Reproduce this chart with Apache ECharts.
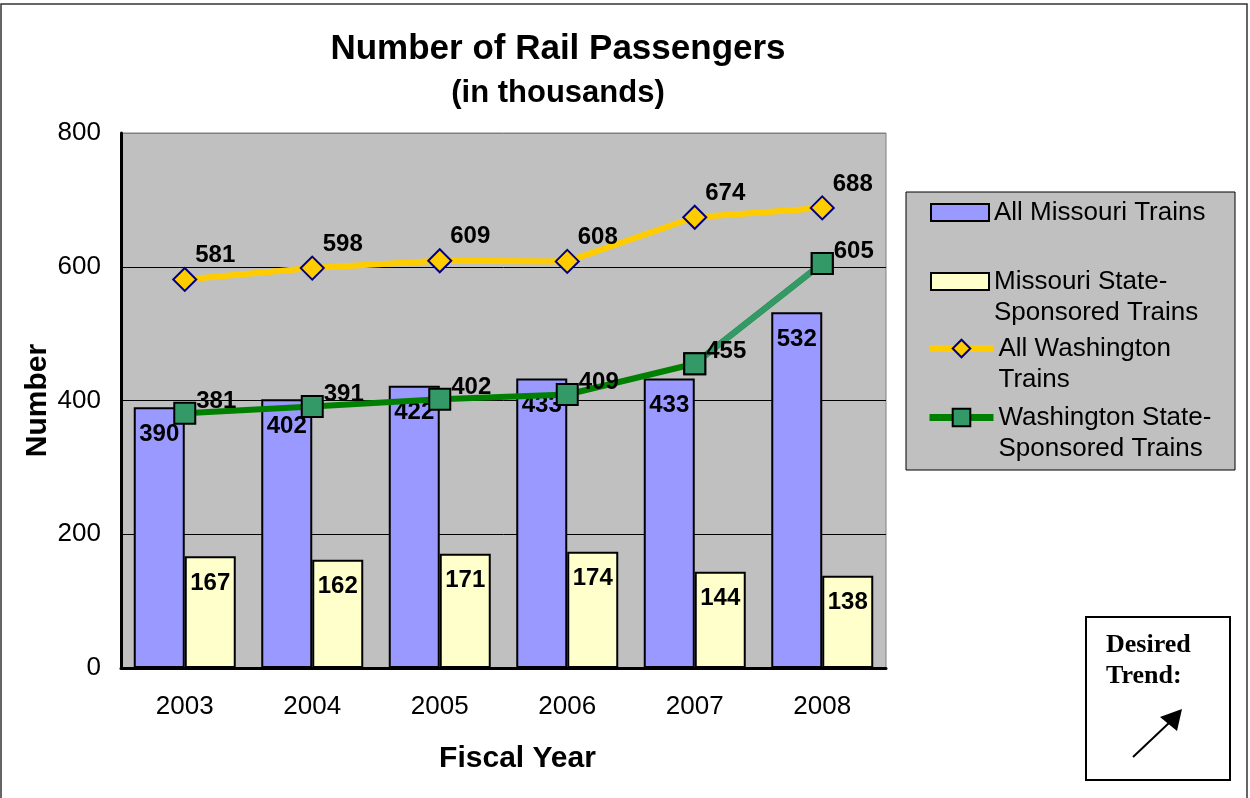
<!DOCTYPE html>
<html>
<head>
<meta charset="utf-8">
<script src="https://cdn.jsdelivr.net/npm/echarts@6/dist/echarts.min.js"></script>
<style>
html,body{margin:0;padding:0;background:#fff;}
#chart{width:1250px;height:798px;}
</style>
</head>
<body>
<div id="chart"></div>
<script>
// ---- data ----
const categories = ['2003', '2004', '2005', '2006', '2007', '2008'];
const allMissouriTrains = [390, 402, 422, 433, 433, 532];
const missouriStateTrains = [167, 162, 171, 174, 144, 138];
const allWashingtonTrains = [581, 598, 609, 608, 674, 688];
const washingtonStateTrains = [381, 391, 402, 409, 455, 605];
const yTicks = [0, 200, 400, 600, 800];

const seriesNames = [
  'All Missouri Trains',
  'Missouri State-\nSponsored Trains',
  'All Washington\nTrains',
  'Washington State-\nSponsored Trains'
];

const FONT = '"Liberation Sans", Arial, sans-serif';
const SERIF = '"Liberation Serif", "Times New Roman", serif';

const chart = echarts.init(document.getElementById('chart'), null, {renderer: 'canvas'});

const barLabel = {
  show: true, position: 'insideTop', distance: 15,
  fontFamily: FONT, fontSize: 24, fontWeight: 'bold', color: '#000'
};

const legendText = {fontFamily: FONT, fontSize: 26, color: '#000', lineHeight: 31};
// leading empty line keeps the first text line level with the legend icon
const multiFormatter = name => '\n' + name;

const option = {
  backgroundColor: '#ffffff',
  animation: false,
  grid: {
    left: 121, top: 133, width: 765, height: 535,
    show: true, backgroundColor: '#C0C0C0', borderColor: '#808080', borderWidth: 1
  },
  xAxis: {
    type: 'category',
    data: categories,
    axisLine: {show: true, lineStyle: {color: '#000', width: 3}},
    axisTick: {show: false},
    axisLabel: {fontFamily: FONT, fontSize: 26, color: '#000', margin: 26},
    name: 'Fiscal Year',
    nameLocation: 'middle',
    nameGap: 76,
    nameMoveOverlap: false,
    nameTextStyle: {fontFamily: FONT, fontSize: 30, fontWeight: 'bold', color: '#000', padding: [0, 0, 0, 28]}
  },
  yAxis: {
    type: 'value',
    min: yTicks[0], max: yTicks[yTicks.length - 1], interval: 200,
    axisLine: {show: true, lineStyle: {color: '#000', width: 3}},
    axisTick: {show: false},
    axisLabel: {fontFamily: FONT, fontSize: 26, color: '#000', margin: 20},
    splitLine: {show: true, lineStyle: {color: ['#000', '#000', '#000', '#000', '#808080'], width: 1}},
    name: 'Number',
    nameLocation: 'middle',
    nameRotate: 90,
    nameGap: 68,
    nameMoveOverlap: false,
    nameTextStyle: {fontFamily: FONT, fontSize: 30, fontWeight: 'bold', color: '#000'}
  },
  legend: [
    {data: [seriesNames[0]], left: 930, top: 197, padding: 0, icon: 'rect',
     itemWidth: 58, itemHeight: 17, textStyle: legendText, selectedMode: false},
    {data: [seriesNames[1]], left: 930, top: 235, padding: 0, icon: 'rect',
     itemWidth: 58, itemHeight: 17, textStyle: legendText, selectedMode: false,
     formatter: multiFormatter},
    {data: [seriesNames[2]], left: 926, top: 302, padding: 0,
     itemWidth: 64, itemHeight: 22, textStyle: legendText, selectedMode: false,
     formatter: multiFormatter, lineStyle: {width: 7}},
    {data: [seriesNames[3]], left: 926, top: 371, padding: 0,
     itemWidth: 64, itemHeight: 22, textStyle: legendText, selectedMode: false,
     formatter: multiFormatter, lineStyle: {width: 7}}
  ],
  series: [
    {
      name: seriesNames[0], type: 'bar', data: allMissouriTrains,
      barWidth: 51, barGap: '0%',
      itemStyle: {color: '#9999FF', borderColor: '#000', borderWidth: 2},
      label: barLabel
    },
    {
      name: seriesNames[1], type: 'bar', data: missouriStateTrains,
      barWidth: 51, barGap: '0%',
      itemStyle: {color: '#FFFFCC', borderColor: '#000', borderWidth: 2},
      label: barLabel
    },
    {
      name: seriesNames[2], type: 'line', data: allWashingtonTrains,
      symbol: 'diamond', symbolSize: 23,
      lineStyle: {color: '#FFCC00', width: 6},
      itemStyle: {color: '#FFCC00', borderColor: '#000080', borderWidth: 2},
      label: {show: true, position: 'right', distance: 0, offset: [-2, -24],
              fontFamily: FONT, fontSize: 24, fontWeight: 'bold', color: '#000'},
      z: 3
    },
    {
      name: seriesNames[3], type: 'line', data: washingtonStateTrains,
      symbol: 'rect', symbolSize: 21,
      lineStyle: {color: '#008000', width: 6},
      itemStyle: {color: '#339966', borderColor: '#000', borderWidth: 2},
      label: {show: true, position: 'right', distance: 0, offset: [0, -12],
              fontFamily: FONT, fontSize: 24, fontWeight: 'bold', color: '#000'},
      z: 3
    },
    {
      name: 'wsLastSegment', type: 'line',
      data: washingtonStateTrains.map((v, i) => (i >= washingtonStateTrains.length - 2 ? v : '-')),
      symbol: 'rect', symbolSize: 21,
      lineStyle: {color: '#339966', width: 6},
      itemStyle: {color: '#339966', borderColor: '#000', borderWidth: 2},
      label: {show: false},
      z: 3
    }
  ],
  graphic: [
    {type: 'rect', z: 0, silent: true,
     shape: {x: 1, y: 4, width: 1246, height: 820},
     style: {fill: 'none', stroke: '#333', lineWidth: 1.5}},
    {type: 'rect', z: 1, silent: true,
     shape: {x: 906, y: 192, width: 329, height: 278},
     style: {fill: '#C0C0C0', stroke: '#000', lineWidth: 1}},
    {type: 'text', x: 558, y: 49, silent: true,
     style: {text: 'Number of Rail Passengers', font: 'bold 35px ' + FONT, fill: '#000',
             textAlign: 'center', textVerticalAlign: 'middle'}},
    {type: 'text', x: 558, y: 93, silent: true,
     style: {text: '(in thousands)', font: 'bold 31px ' + FONT, fill: '#000',
             textAlign: 'center', textVerticalAlign: 'middle'}},
    {type: 'rect', z: 1, silent: true,
     shape: {x: 1086, y: 617, width: 144, height: 163},
     style: {fill: '#fff', stroke: '#000', lineWidth: 2}},
    {type: 'text', x: 1106, y: 645, z: 2, silent: true,
     style: {text: 'Desired', font: 'bold 26px ' + SERIF, fill: '#000',
             textAlign: 'left', textVerticalAlign: 'middle'}},
    {type: 'text', x: 1106, y: 676, z: 2, silent: true,
     style: {text: 'Trend:', font: 'bold 26px ' + SERIF, fill: '#000',
             textAlign: 'left', textVerticalAlign: 'middle'}},
    {type: 'line', z: 2, silent: true,
     shape: {x1: 1133, y1: 757, x2: 1170, y2: 722},
     style: {stroke: '#000', lineWidth: 2}},
    {type: 'polygon', z: 2, silent: true,
     shape: {points: [[1182, 709], [1160, 717], [1177, 731]]},
     style: {fill: '#000'}}
  ]
};

chart.setOption(option);
</script>
</body>
</html>
